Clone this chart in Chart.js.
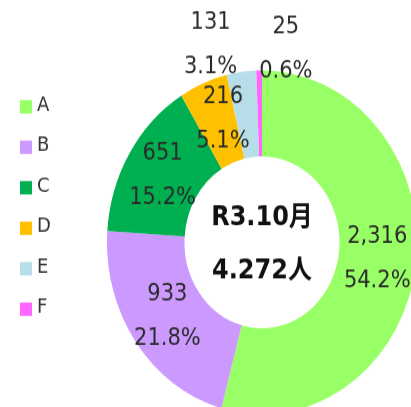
<!DOCTYPE html>
<html>
<head>
<meta charset="utf-8">
<script src="https://cdn.jsdelivr.net/npm/chart.js@4"></script>
<style>
  html, body { margin: 0; padding: 0; background: #fff; overflow: hidden; }
  body { width: 411px; height: 407px; position: relative; }
  /* the original picture is stretched vertically, so the whole chart is too */
  #wrap { position: absolute; left: 0; top: 0; width: 411px; height: 367px; transform: scaleY(1.109); transform-origin: 0 0; }
</style>
</head>
<body>
<div id="wrap"><canvas id="donut"></canvas></div>
<script>
const labels = ['A', 'B', 'C', 'D', 'E', 'F'];
const counts = [2316, 933, 651, 216, 131, 25];
const colors = ['#99ff66', '#cc99ff', '#00b050', '#ffc000', '#b7dee8', '#ff66ff'];
const centerLines = ['R3.10月', '4.272人'];

// small shifts for the labels that do not sit in the middle of the ring
const nudge = { 3: [5, -3], 4: [-36, -63], 5: [26, -58] };

const sliceLabels = {
    id: 'sliceLabels',
    afterDatasetsDraw(chart) {
        const ctx = chart.ctx;
        const meta = chart.getDatasetMeta(0);
        const total = counts.reduce((a, b) => a + b, 0);
        const area = chart.chartArea;
        const cx = (area.left + area.right) / 2;
        const cy = (area.top + area.bottom) / 2;

        ctx.save();
        ctx.textAlign = 'center';
        ctx.textBaseline = 'middle';
        ctx.fillStyle = '#2a2a2a';
        ctx.font = '21px "DejaVu Sans", "Noto Sans CJK JP"';
        meta.data.forEach((arc, i) => {
            const p = arc.tooltipPosition(true);
            const d = nudge[i] || [0, 0];
            const x = p.x + d[0];
            const y = p.y + d[1];
            ctx.fillText(counts[i].toLocaleString('en-US'), x, y - 20);
            ctx.fillText((counts[i] / total * 100).toFixed(1) + '%', x, y + 20);
        });

        // center text
        ctx.fillStyle = '#111';
        ctx.font = 'bold 24px "DejaVu Sans", "Noto Sans CJK JP"';
        ctx.fillText(centerLines[0], cx, cy - 22);
        ctx.fillText(centerLines[1], cx, cy + 26);

        // legend
        ctx.textAlign = 'left';
        ctx.font = '18px "DejaVu Sans"';
        labels.forEach((lab, i) => {
            const y = 96.3 + i * 36.5;
            ctx.fillStyle = colors[i];
            ctx.fillRect(20, y - 6, 12, 12);
            ctx.fillStyle = '#333';
            ctx.fillText(lab, 37, y - 1);
        });
        ctx.restore();
    }
};

new Chart(document.getElementById('donut'), {
    type: 'doughnut',
    data: {
        labels: labels,
        datasets: [{
            data: counts,
            backgroundColor: colors,
            borderWidth: 0,
            radius: 155,
            cutout: '50%',
            clip: false
        }]
    },
    options: {
        responsive: true,
        maintainAspectRatio: false,
        animation: false,
        layout: { padding: { left: 113, top: 70, right: 0, bottom: 0 } },
        plugins: {
            legend: { display: false },
            tooltip: { enabled: false }
        }
    },
    plugins: [sliceLabels]
});
</script>
</body>
</html>
